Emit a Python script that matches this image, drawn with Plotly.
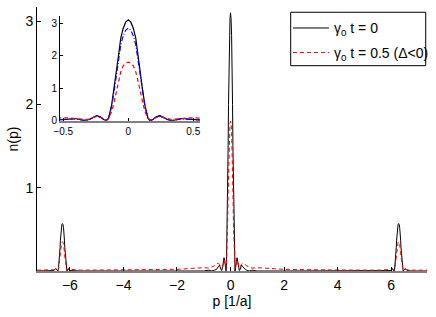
import plotly.graph_objects as go

# ---------------- data ----------------
# inset / central profile (p in 1/a)
p_center = [-0.6, -0.55, -0.52, -0.46, -0.41, -0.36, -0.33, -0.3, -0.27, -0.243, -0.215, -0.19,
            -0.168, -0.152, -0.128, -0.11, -0.089, -0.075, -0.058, -0.04, -0.02, 0.0,
            0.02, 0.04, 0.058, 0.075, 0.089, 0.11, 0.128, 0.152, 0.168, 0.19, 0.215, 0.243,
            0.27, 0.3, 0.33, 0.36, 0.41, 0.46, 0.52, 0.55, 0.6]
n_black_center = [0.01, 0.02, 0.02, 0.05, 0.07, 0.02, 0.005, 0.04, 0.11, 0.16, 0.12, 0.04,
                  0.0, 0.07, 0.48, 0.95, 1.51, 2.0, 2.53, 2.83, 3.03, 3.1,
                  3.03, 2.83, 2.53, 2.0, 1.51, 0.95, 0.48, 0.07, 0.0, 0.04, 0.12, 0.16,
                  0.11, 0.04, 0.005, 0.02, 0.07, 0.05, 0.02, 0.02, 0.01]
n_blue_center = [0.01, 0.02, 0.03, 0.05, 0.06, 0.02, 0.01, 0.04, 0.1, 0.15, 0.11, 0.04,
                 0.0, 0.07, 0.44, 0.88, 1.4, 1.85, 2.33, 2.6, 2.78, 2.85,
                 2.78, 2.6, 2.33, 1.85, 1.4, 0.88, 0.44, 0.07, 0.0, 0.04, 0.11, 0.15,
                 0.1, 0.04, 0.01, 0.02, 0.06, 0.05, 0.03, 0.02, 0.01]
n_red_center = [0.06, 0.08, 0.09, 0.09, 0.08, 0.05, 0.04, 0.05, 0.1, 0.13, 0.1, 0.05,
                0.03, 0.08, 0.28, 0.55, 0.95, 1.22, 1.5, 1.68, 1.77, 1.8,
                1.77, 1.68, 1.5, 1.22, 0.95, 0.55, 0.28, 0.08, 0.03, 0.05, 0.1, 0.13,
                0.1, 0.05, 0.04, 0.05, 0.08, 0.09, 0.09, 0.08, 0.06]

# left satellite peak near p = -2*pi
p_left_peak = [-7.23, -6.75, -6.6, -6.53, -6.448, -6.432, -6.408, -6.39, -6.369, -6.355, -6.338,
               -6.32, -6.3, -6.28, -6.26, -6.24, -6.222, -6.205, -6.191, -6.17, -6.152,
               -6.128, -6.112, -6.05, -6.0, -5.6, -4.0, -2.0, -1.0, -0.8, -0.7]
n_black_left = [0.0, 0.0, 0.005, 0.03, 0.0, 0.013, 0.09, 0.17, 0.28, 0.37, 0.47,
                0.52, 0.56, 0.57, 0.56, 0.52, 0.47, 0.37, 0.28, 0.17, 0.09,
                0.013, 0.0, 0.03, 0.005, 0.0, 0.0, 0.0, 0.0, 0.01, 0.0]
n_red_left = [0.01, 0.01, 0.015, 0.02, 0.01, 0.02, 0.06, 0.11, 0.17, 0.23, 0.29,
              0.32, 0.345, 0.35, 0.345, 0.32, 0.29, 0.23, 0.17, 0.11, 0.06,
              0.02, 0.01, 0.02, 0.02, 0.01, 0.012, 0.02, 0.04, 0.035, 0.05]

# right satellite peak near p = +2*pi
p_right_peak = [0.7, 0.8, 1.0, 2.0, 4.0, 5.6, 6.0, 6.05, 6.112, 6.128, 6.152, 6.17, 6.191,
                6.205, 6.222, 6.24, 6.26, 6.28, 6.3, 6.32, 6.338, 6.355, 6.369, 6.39,
                6.408, 6.432, 6.448, 6.53, 6.6, 6.75, 7.34]
n_black_right = [0.0, 0.01, 0.0, 0.0, 0.0, 0.0, 0.005, 0.03, 0.0, 0.013, 0.09, 0.17, 0.28,
                 0.37, 0.47, 0.52, 0.56, 0.57, 0.56, 0.52, 0.47, 0.37, 0.28, 0.17,
                 0.09, 0.013, 0.0, 0.03, 0.005, 0.0, 0.0]
n_red_right = [0.05, 0.035, 0.04, 0.02, 0.012, 0.01, 0.02, 0.02, 0.01, 0.02, 0.06, 0.11, 0.17,
               0.23, 0.29, 0.32, 0.345, 0.35, 0.345, 0.32, 0.29, 0.23, 0.17, 0.11,
               0.06, 0.02, 0.01, 0.02, 0.015, 0.01, 0.01]

main_xticks = [-6, -4, -2, 0, 2, 4, 6]
main_yticks = [1, 2, 3]
inset_xticks = [-0.5, 0, 0.5]
inset_xticktext = ["\u22120.5", "0", "0.5"]
inset_yticks = [0, 1, 2, 3]

legend_black = "\u03b3<sub>0</sub> t = 0"
legend_red = "\u03b3<sub>0</sub> t = 0.5 (\u0394&lt;0)"

# ---------------- assemble main curves ----------------
p_main = p_left_peak + p_center + p_right_peak
n_black_main = n_black_left + n_black_center + n_black_right
n_red_main = n_red_left + n_red_center + n_red_right

FONT = "Liberation Sans, Arial, Helvetica, sans-serif"
DASH = "4px,3px"

fig = go.Figure()
fig.add_trace(go.Scatter(x=p_main, y=n_black_main, mode="lines", name=legend_black,
                         line=dict(color="black", width=1), xaxis="x", yaxis="y",
                         legend="legend"))
fig.add_trace(go.Scatter(x=p_main, y=n_red_main, mode="lines", name=legend_red,
                         line=dict(color="red", width=1, dash=DASH), xaxis="x", yaxis="y",
                         legend="legend2"))

# inset
fig.add_trace(go.Scatter(x=p_center, y=n_black_center, mode="lines", showlegend=False,
                         line=dict(color="black", width=1.2), xaxis="x2", yaxis="y2"))
fig.add_trace(go.Scatter(x=p_center, y=n_blue_center, mode="lines", showlegend=False,
                         line=dict(color="blue", width=1.2, dash="5px,2px,1px,2px"),
                         xaxis="x2", yaxis="y2"))
fig.add_trace(go.Scatter(x=p_center, y=n_red_center, mode="lines", showlegend=False,
                         line=dict(color="red", width=1.2, dash=DASH), xaxis="x2", yaxis="y2"))

legend_common = dict(xanchor="left", yanchor="middle", bgcolor="rgba(0,0,0,0)",
                     borderwidth=0, font=dict(size=14), itemwidth=36, tracegroupgap=0)

fig.update_layout(
    width=436, height=317,
    margin=dict(l=37, r=9, t=7, b=46, autoexpand=False),
    paper_bgcolor="white", plot_bgcolor="white",
    font=dict(family=FONT, size=14, color="black"),
    hovermode=False,
    xaxis=dict(domain=[0, 1], range=[-7.23, 7.34], tickvals=main_xticks,
               ticks="inside", ticklen=4, tickcolor="black",
               showline=True, linecolor="#808080", linewidth=1.5,
               showgrid=False, zeroline=False,
               title=dict(text="p [1/a]", standoff=4, font=dict(size=14))),
    yaxis=dict(domain=[0, 1], range=[0, 3.17], tickvals=main_yticks,
               ticks="inside", ticklen=4, tickcolor="black",
               showline=True, linecolor="black", linewidth=1,
               showgrid=False, zeroline=False,
               title=dict(text="n(p)", standoff=3, font=dict(size=14))),
    xaxis2=dict(domain=[0.059, 0.418], anchor="y2", range=[-0.525, 0.552],
                tickvals=inset_xticks, ticktext=inset_xticktext,
                ticks="inside", ticklen=3, tickcolor="black",
                tickfont=dict(size=10),
                showline=True, linecolor="#808080", linewidth=1.5,
                showgrid=False, zeroline=False),
    yaxis2=dict(domain=[0.569, 0.966], anchor="x2", range=[0, 3.22],
                tickvals=inset_yticks,
                ticks="inside", ticklen=3, tickcolor="black",
                tickfont=dict(size=10),
                showline=True, linecolor="black", linewidth=1,
                showgrid=False, zeroline=False),
    legend=dict(x=0.6435, y=0.919, **legend_common),
    legend2=dict(x=0.6435, y=0.826, **legend_common),
    shapes=[dict(type="rect", xref="paper", yref="paper",
                 x0=0.6505, x1=0.9967, y0=0.7777, y1=0.980,
                 line=dict(color="black", width=1), fillcolor="white", layer="above")],
    showlegend=True,
)

fig.write_html("out.html",
               config={"displayModeBar": False},
               post_script="document.body.style.margin='0px';document.body.style.overflow='hidden';")
